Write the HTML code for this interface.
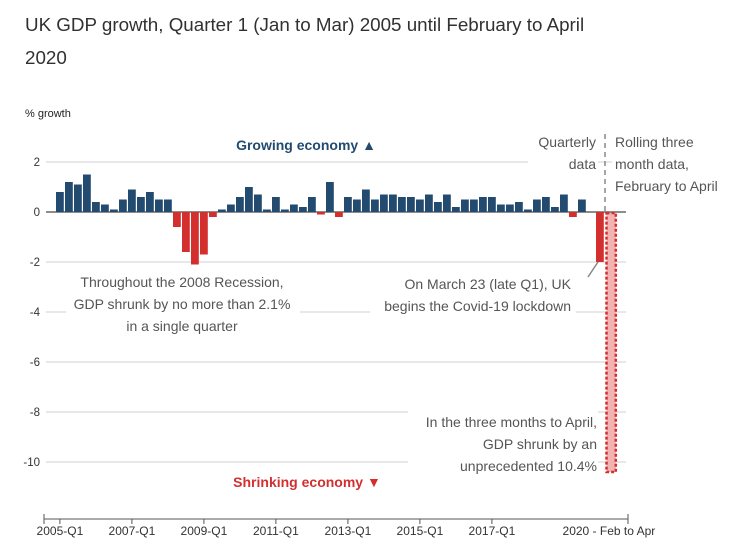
<!DOCTYPE html>
<html><head><meta charset="utf-8"><style>
body{margin:0;background:#fff;font-family:"Liberation Sans",sans-serif;}
svg text{font-family:"Liberation Sans",sans-serif;}
</style></head><body>
<svg id="chart" width="745" height="553" viewBox="0 0 745 553" xmlns="http://www.w3.org/2000/svg">
<text x="25" y="31" font-size="18.8" fill="#323132">UK GDP growth, Quarter 1 (Jan to Mar) 2005 until February to April</text>
<text x="25" y="64" font-size="18.8" fill="#323132">2020</text>
<text x="25" y="117" font-size="11" fill="#222">% growth</text>
<g id="grid"></g>
<g id="bars"></g>
<g id="labels"></g>
</svg>
<script>
const yTicks=[2,0,-2,-4,-6,-8,-10];
const quarterly=[0.8,1.2,1.1,1.5,0.4,0.3,0.1,0.5,0.9,0.6,0.8,0.5,0.5,-0.6,-1.6,-2.1,-1.7,-0.2,0.1,0.3,0.6,1.0,0.7,0.1,0.6,0.1,0.3,0.2,0.6,-0.1,1.2,-0.2,0.6,0.5,0.9,0.5,0.7,0.7,0.6,0.6,0.5,0.7,0.4,0.7,0.2,0.5,0.5,0.6,0.6,0.3,0.3,0.4,0.1,0.5,0.6,0.2,0.7,-0.2,0.5,0.0,-2.0];
const rolling=[-10.4];
const xLabels=["2005-Q1","2007-Q1","2009-Q1","2011-Q1","2013-Q1","2015-Q1","2017-Q1"];
const xLabelIdx=[0,8,16,24,32,40,48];
const NS="http://www.w3.org/2000/svg";
const y=v=>212-v*25;
const x=i=>56+i*9;
const BW=7.8;
function mk(tag,attrs,parent,text){const e=document.createElementNS(NS,tag);for(const k in attrs)e.setAttribute(k,attrs[k]);if(text!==undefined)e.textContent=text;parent.appendChild(e);return e;}
const grid=document.getElementById('grid'),bars=document.getElementById('bars'),labels=document.getElementById('labels');
yTicks.forEach(t=>{
  const l=mk('line',{x1:46,x2:626,y1:y(t),y2:y(t),stroke:t===0?'#666':'#d0d0d0','stroke-width':t===0?1.5:1},grid);
  
  
  const tx=mk('text',{x:40,y:y(t)+4,'font-size':11.5,'text-anchor':'end',fill:'#333'},grid,String(t));
  
  
});
quarterly.forEach((v,i)=>{
  const r=mk('rect',{x:x(i),width:BW,y:Math.min(y(v),y(0)),height:Math.abs(y(v)-y(0)),fill:v>=0?'#234b70':'#d32f2f'},bars);
  
  
});
rolling.forEach((v,j)=>{
  const i=quarterly.length+j;
  const r=mk('rect',{x:x(i)+1.5,width:BW+1.5,y:y(0)+1,height:Math.abs(y(v)-y(0))-1,fill:'#f2b3b3',stroke:'#d32f2f','stroke-width':2.5,'stroke-dasharray':'3,2'},bars);
  
  
});
const ax=mk('line',{x1:44,x2:628,y1:519,y2:519,stroke:'#555'},labels);


xLabels.forEach((lab,k)=>{
  const cx=x(xLabelIdx[k])+BW/2;
  const tk=mk('line',{x1:cx,x2:cx,y1:519,y2:524,stroke:'#555'},labels);
  
  
  const t=mk('text',{x:cx,y:535,'font-size':12,'text-anchor':'middle',fill:'#333'},labels,lab);
  
  
});
[44,628].forEach(px=>{const e=mk('line',{x1:px,x2:px,y1:514,y2:524,stroke:'#555'},labels);
  
  });
const lastX=x(quarterly.length)+BW/2;
const lt=mk('text',{x:lastX,y:535,'font-size':12,'text-anchor':'middle',fill:'#333'},labels,'2020 - Feb to Apr');


</script>
<svg style="position:absolute;left:0;top:0" width="745" height="553">
<line x1="605" x2="605" y1="134" y2="212" stroke="#888" stroke-width="1.5" stroke-dasharray="5,4"/>
<line x1="598" x2="588" y1="262" y2="277" stroke="#888" stroke-width="1.5"/>
<text x="306" y="150" font-size="14" font-weight="bold" fill="#234b70" text-anchor="middle">Growing economy ▲</text>
<text x="307" y="487" font-size="14" font-weight="bold" fill="#d32f2f" text-anchor="middle">Shrinking economy ▼</text>
<g font-size="14" fill="#555">
<rect x="528" y="131" width="70" height="44" fill="#fff"/>
<text text-anchor="end" x="596" y="147">Quarterly</text>
<text text-anchor="end" x="596" y="169">data</text>
<rect x="612" y="131" width="125" height="64" fill="#fff"/>
<text x="615" y="147">Rolling three</text>
<text x="615" y="169">month data,</text>
<text x="615" y="191">February to April</text>
<rect x="66" y="270" width="234" height="66" fill="#fff"/>
<text text-anchor="middle" x="182" y="287">Throughout the 2008 Recession,</text>
<text text-anchor="middle" x="182" y="309">GDP shrunk by no more than 2.1%</text>
<text text-anchor="middle" x="182" y="331">in a single quarter</text>
<rect x="370" y="272" width="206" height="44" fill="#fff"/>
<text text-anchor="end" x="571" y="289">On March 23 (late Q1), UK</text>
<text text-anchor="end" x="571" y="311">begins the Covid-19 lockdown</text>
<rect x="408" y="410" width="190" height="66" fill="#fff"/>
<text text-anchor="end" x="597" y="427">In the three months to April,</text>
<text text-anchor="end" x="597" y="449">GDP shrunk by an</text>
<text text-anchor="end" x="597" y="471">unprecedented 10.4%</text>
</g>
</svg>
</body></html>
